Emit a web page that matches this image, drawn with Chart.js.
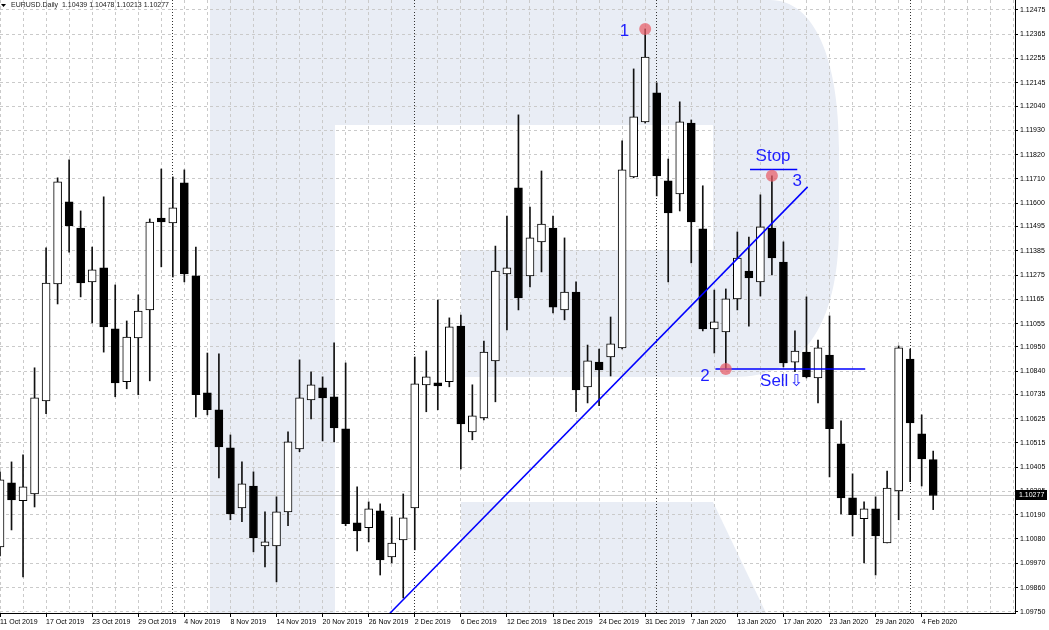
<!DOCTYPE html>
<html>
<head>
<meta charset="utf-8">
<title>EURUSD Daily</title>
<script src="https://cdn.jsdelivr.net/npm/chart.js@4.4.1/dist/chart.umd.min.js"></script>
<style>
  html, body { margin: 0; padding: 0; background: #fff; }
  canvas { display: block; }
</style>
</head>
<body>
<canvas id="chart" width="1049" height="630"></canvas>
<script>
// EURUSD Daily, MT4 style candles with the sell setup drawn on top

const dates = [
  "11 Oct 2019", "14 Oct 2019", "15 Oct 2019", "16 Oct 2019", "17 Oct 2019", "18 Oct 2019",
  "21 Oct 2019", "22 Oct 2019", "23 Oct 2019", "24 Oct 2019", "25 Oct 2019",
  "28 Oct 2019", "29 Oct 2019", "30 Oct 2019", "31 Oct 2019", "1 Nov 2019",
  "4 Nov 2019", "5 Nov 2019", "6 Nov 2019", "7 Nov 2019", "8 Nov 2019",
  "11 Nov 2019", "12 Nov 2019", "13 Nov 2019", "14 Nov 2019", "15 Nov 2019",
  "18 Nov 2019", "19 Nov 2019", "20 Nov 2019", "21 Nov 2019", "22 Nov 2019",
  "25 Nov 2019", "26 Nov 2019", "27 Nov 2019", "28 Nov 2019", "29 Nov 2019",
  "2 Dec 2019", "3 Dec 2019", "4 Dec 2019", "5 Dec 2019", "6 Dec 2019",
  "9 Dec 2019", "10 Dec 2019", "11 Dec 2019", "12 Dec 2019", "13 Dec 2019",
  "16 Dec 2019", "17 Dec 2019", "18 Dec 2019", "19 Dec 2019", "20 Dec 2019",
  "23 Dec 2019", "24 Dec 2019", "26 Dec 2019", "27 Dec 2019",
  "30 Dec 2019", "31 Dec 2019", "2 Jan 2020", "3 Jan 2020",
  "6 Jan 2020", "7 Jan 2020", "8 Jan 2020", "9 Jan 2020", "10 Jan 2020",
  "13 Jan 2020", "14 Jan 2020", "15 Jan 2020", "16 Jan 2020", "17 Jan 2020",
  "20 Jan 2020", "21 Jan 2020", "22 Jan 2020", "23 Jan 2020", "24 Jan 2020",
  "27 Jan 2020", "28 Jan 2020", "29 Jan 2020", "30 Jan 2020", "31 Jan 2020",
  "3 Feb 2020", "4 Feb 2020", "5 Feb 2020"
];

const open = [
  1.10044, 1.10334, 1.10253, 1.10284, 1.10705, 1.11235,
  1.11606, 1.11488, 1.11244, 1.11307, 1.11031,
  1.10792, 1.10990, 1.11117, 1.11533, 1.11511,
  1.11692, 1.11271, 1.10742, 1.10665, 1.10493,
  1.10221, 1.10320, 1.10049, 1.10049, 1.10203,
  1.10488, 1.10710, 1.10764, 1.10724, 1.10579,
  1.10153, 1.10131, 1.10208, 1.09999, 1.10076,
  1.10221, 1.10778, 1.10787, 1.10792, 1.11044,
  1.10565, 1.10628, 1.10886, 1.11280, 1.11670,
  1.11271, 1.11425, 1.11488, 1.11117, 1.11198,
  1.10769, 1.10881, 1.10904, 1.10945,
  1.11719, 1.11968, 1.12100, 1.11701,
  1.11642, 1.11963, 1.11484, 1.11031, 1.11017,
  1.11167, 1.11293, 1.11244, 1.11488, 1.11334,
  1.10881, 1.10926, 1.10809, 1.10913, 1.10511,
  1.10266, 1.10172, 1.10217, 1.10062, 1.10298,
  1.10895, 1.10556, 1.10439
];

const high = [
  1.10384, 1.10429, 1.10461, 1.10855, 1.11398, 1.11715,
  1.11796, 1.11565, 1.11402, 1.11629, 1.11230,
  1.11067, 1.11185, 1.11529, 1.11755, 1.11719,
  1.11751, 1.11402, 1.10922, 1.10918, 1.10551,
  1.10429, 1.10384, 1.10203, 1.10271, 1.10565,
  1.10891, 1.10837, 1.10814, 1.10968, 1.10877,
  1.10316, 1.10248, 1.10239, 1.10180, 1.10284,
  1.10904, 1.10931, 1.11162, 1.11081, 1.11094,
  1.10778, 1.10976, 1.11406, 1.11542, 1.12000,
  1.11583, 1.11746, 1.11542, 1.11443, 1.11244,
  1.10958, 1.10940, 1.11085, 1.11882,
  1.12208, 1.12389, 1.12145, 1.11800,
  1.12059, 1.11977, 1.11679, 1.11207, 1.11212,
  1.11470, 1.11447, 1.11638, 1.11724, 1.11425,
  1.11022, 1.11176, 1.10981, 1.11090, 1.10615,
  1.10375, 1.10248, 1.10271, 1.10388, 1.10954,
  1.10940, 1.10642, 1.10478
];

const low = [
  1.10003, 1.10121, 1.09908, 1.10225, 1.10647, 1.11144,
  1.11379, 1.11176, 1.11058, 1.10926, 1.10724,
  1.10760, 1.10733, 1.10796, 1.11312, 1.11266,
  1.11244, 1.10633, 1.10642, 1.10357, 1.10167,
  1.10158, 1.10022, 1.09954, 1.09886, 1.10140,
  1.10475, 1.10624, 1.10524, 1.10520, 1.10140,
  1.10026, 1.10067, 1.09917, 1.09972, 1.09813,
  1.10031, 1.10656, 1.10665, 1.10769, 1.10397,
  1.10529, 1.10619, 1.10701, 1.11026, 1.11117,
  1.11221, 1.11289, 1.11103, 1.11072, 1.10656,
  1.10696, 1.10683, 1.10818, 1.10940,
  1.11715, 1.11963, 1.11633, 1.11244,
  1.11565, 1.11330, 1.11022, 1.10922, 1.10850,
  1.11117, 1.11044, 1.11180, 1.11275, 1.10859,
  1.10837, 1.10809, 1.10696, 1.10361, 1.10194,
  1.10094, 1.09972, 1.09917, 1.10062, 1.10167,
  1.10339, 1.10320, 1.10213
];

const close = [
  1.10348, 1.10257, 1.10316, 1.10719, 1.11239, 1.11697,
  1.11497, 1.11239, 1.11298, 1.11040, 1.10787,
  1.10994, 1.11112, 1.11515, 1.11515, 1.11579,
  1.11280, 1.10733, 1.10665, 1.10497, 1.10194,
  1.10330, 1.10085, 1.10067, 1.10203, 1.10520,
  1.10719, 1.10778, 1.10719, 1.10583, 1.10149,
  1.10117, 1.10217, 1.09985, 1.10062, 1.10176,
  1.10782, 1.10814, 1.10773, 1.11040, 1.10601,
  1.10638, 1.10926, 1.11293, 1.11307, 1.11171,
  1.11443, 1.11506, 1.11130, 1.11198, 1.10755,
  1.10886, 1.10845, 1.10963, 1.11751,
  1.11991, 1.12262, 1.11724, 1.11556,
  1.11968, 1.11515, 1.11031, 1.11063, 1.11167,
  1.11352, 1.11262, 1.11493, 1.11352, 1.10877,
  1.10931, 1.10814, 1.10945, 1.10579, 1.10266,
  1.10190, 1.10217, 1.10094, 1.10311, 1.10945,
  1.10606, 1.10443, 1.10277
];

// first bar of each month (dotted period separators)
const separators = [15, 36, 57, 79];

const yTicks = [
  1.12475, 1.12365, 1.12255, 1.12145, 1.12040, 1.11930, 1.11820, 1.11710, 1.11600,
  1.11495, 1.11385, 1.11275, 1.11165, 1.11055, 1.10950, 1.10840, 1.10735, 1.10625,
  1.10515, 1.10405, 1.10295, 1.10190, 1.10080, 1.09970, 1.09860, 1.09750
];
const yMin = 1.09745;
const yMax = 1.12520;
const xMax = 88.1;   // empty bars to the right of the last candle

// drawn analysis
const trendX = [33.7, 70.1];
const trendY = [1.09736, 1.11674];
const sellX = [62.1, 75.1];
const sellPrice = 1.10850;
const stopX = [65.1, 69.2];
const stopPrice = 1.11753;
const markX = [56, 63, 67];
const markY = [1.12389, 1.10850, 1.11724];
const noteText = ["1", "2", "3", "Stop", "Sell"];
const noteX = [54.2, 61.2, 69.2, 67.1, 67.2];
const noteY = [1.12380, 1.10818, 1.11701, 1.11814, 1.10796];

const symbol = "EURUSD.Daily";
const last = close.length - 1;

const bodies = dates.map((d, i) => ({ x: i, y: [Math.min(open[i], close[i]), Math.max(open[i], close[i])] }));
const wicks = dates.map((d, i) => ({ x: i, y: [low[i], high[i]] }));
const bodyFill = dates.map((d, i) => close[i] >= open[i] ? "#ffffff" : "#000000");

const FONT = "'Liberation Sans', Arial, sans-serif";

/* ---------- background logo + overlays ---------- */

const mtPlugin = {
    id: "mt",
    beforeDraw(chart) {
        const ctx = chart.ctx;
        const a = chart.chartArea;
        ctx.save();
        ctx.fillStyle = "#ffffff";
        ctx.fillRect(0, 0, chart.width, chart.height);

        // faint "R" watermark
        ctx.translate(a.left, a.top);
        ctx.fillStyle = "#e9edf5";
        ctx.fillRect(210, 0, 125, a.bottom - a.top);
        ctx.beginPath();
        ctx.moveTo(335, 0);
        ctx.lineTo(770, 0);
        ctx.bezierCurveTo(815, 0, 839, 60, 839, 150);
        ctx.lineTo(839, 225);
        ctx.bezierCurveTo(839, 330, 800, 377, 735, 377);
        ctx.lineTo(461, 377);
        ctx.lineTo(461, 250);
        ctx.lineTo(713, 250);
        ctx.lineTo(713, 125);
        ctx.lineTo(335, 125);
        ctx.closePath();
        ctx.fill();
        ctx.beginPath();
        ctx.moveTo(461, 502);
        ctx.lineTo(713, 502);
        ctx.lineTo(766, a.bottom - a.top);
        ctx.lineTo(461, a.bottom - a.top);
        ctx.closePath();
        ctx.fill();
        ctx.restore();
    },
    afterDraw(chart) {
        const ctx = chart.ctx;
        const a = chart.chartArea;
        const xs = chart.scales.x, ys = chart.scales.y;
        ctx.save();

        // header
        ctx.fillStyle = "#000";
        ctx.beginPath();
        ctx.moveTo(1, 4); ctx.lineTo(6, 4); ctx.lineTo(3.5, 7); ctx.closePath();
        ctx.fill();
        ctx.font = "7px " + FONT;
        ctx.textBaseline = "middle";
        ctx.fillStyle = "#222";
        ctx.fillText(symbol + "  " + [open[last], high[last], low[last], close[last]].map(v => v.toFixed(5)).join(" "), 11, 5.5);

        // current price box
        const py = Math.round(ys.getPixelForValue(close[last]));
        ctx.fillStyle = "#000";
        ctx.fillRect(a.right + 1, py - 5, chart.width - a.right - 3, 10);
        ctx.fillStyle = "#fff";
        ctx.fillText(close[last].toFixed(5), a.right + 4, py + 0.5);

        // notes
        ctx.fillStyle = "#1e1eff";
        ctx.font = "17px " + FONT;
        ctx.textAlign = "center";
        noteText.forEach((t, i) => {
            ctx.fillText(t, xs.getPixelForValue(noteX[i]), ys.getPixelForValue(noteY[i]));
        });
        // hollow down arrow after "Sell"
        ctx.font = "16px 'DejaVu Sans', sans-serif";
        ctx.fillText("\u21E9", xs.getPixelForValue(noteX[4]) + 22, ys.getPixelForValue(noteY[4]) + 1);
        ctx.restore();
    }
};

/* ---------- chart ---------- */

const xGridColor = c => {
    if (!c.tick) return "#c9c9c9";
    const v = c.tick.value;
    if (separators.includes(v)) return "#333";
    return v % 2 === 0 ? "#cacaca" : "rgba(0,0,0,0)";
};

new Chart(document.getElementById("chart"), {
    type: "bar",
    data: {
        datasets: [
            {
                type: "line",
                data: [{ x: 0, y: close[last] }, { x: xMax, y: close[last] }],
                borderColor: "#c8c8c8",
                borderWidth: 1,
                pointRadius: 0,
                order: 6
            },
            {
                data: wicks,
                backgroundColor: "#111",
                barThickness: 1,
                grouped: false,
                order: 5
            },
            {
                data: bodies,
                backgroundColor: bodyFill,
                borderColor: "#000",
                borderWidth: 1,
                borderSkipped: false,
                barThickness: 8,
                minBarLength: 2,
                grouped: false,
                order: 4
            },
            {
                type: "line",
                data: [{ x: trendX[0], y: trendY[0] }, { x: trendX[1], y: trendY[1] }],
                borderColor: "#0000ff",
                borderWidth: 1.5,
                pointRadius: 0,
                order: 3
            },
            {
                type: "line",
                data: [{ x: sellX[0], y: sellPrice }, { x: sellX[1], y: sellPrice }],
                borderColor: "#0000ff",
                borderWidth: 1.5,
                pointRadius: 0,
                order: 3
            },
            {
                type: "line",
                data: [{ x: stopX[0], y: stopPrice }, { x: stopX[1], y: stopPrice }],
                borderColor: "#0000ff",
                borderWidth: 1.5,
                pointRadius: 0,
                order: 3
            },
            {
                type: "line",
                data: markX.map((x, i) => ({ x, y: markY[i] })),
                showLine: false,
                pointRadius: 6,
                pointBorderWidth: 0,
                pointBackgroundColor: "rgba(232, 92, 102, 0.72)",
                order: 1
            }
        ]
    },
    options: {
        responsive: false,
        animation: false,
        layout: { padding: 0, autoPadding: false },
        plugins: { legend: { display: false }, tooltip: { enabled: false } },
        scales: {
            x: {
                type: "linear",
                min: 0,
                max: xMax,
                offset: false,
                afterBuildTicks: s => {
                    const t = [];
                    for (let i = 0; i <= Math.floor(xMax); i++) t.push({ value: i });
                    s.ticks = t;
                },
                afterFit: s => {
                    s.height = 17;
                    s.paddingLeft = 0;
                    s.paddingRight = 0;
                },
                ticks: {
                    autoSkip: false,
                    maxRotation: 0,
                    align: "start",
                    padding: 1,
                    color: "#000",
                    font: { family: FONT, size: 7 },
                    callback: v => (v % 4 === 0 && dates[v]) ? dates[v] : ""
                },
                grid: {
                    offset: false,
                    color: xGridColor,
                    tickColor: c => (c.tick && c.tick.value % 4 === 0 && c.tick.value < dates.length) ? "#000" : "rgba(0,0,0,0)",
                    tickLength: 4,
                    tickBorderDash: []
                },
                border: {
                    display: true,
                    color: "#000",
                    width: 1,
                    dash: c => (c.tick && separators.includes(c.tick.value)) ? [1, 2] : [3, 3]
                }
            },
            y: {
                position: "right",
                min: yMin,
                max: yMax,
                afterBuildTicks: s => { s.ticks = yTicks.map(v => ({ value: v })); },
                afterFit: s => {
                    s.width = 34;
                    s.paddingTop = 0;
                    s.paddingBottom = 0;
                },
                ticks: {
                    padding: 2,
                    color: "#000",
                    font: { family: FONT, size: 7 },
                    callback: v => v.toFixed(5)
                },
                grid: {
                    color: "#cacaca",
                    tickColor: "#000",
                    tickLength: 3,
                    tickBorderDash: []
                },
                border: { display: true, color: "#000", width: 1, dash: [3, 3] }
            }
        }
    },
    plugins: [mtPlugin]
});
</script>
</body>
</html>
